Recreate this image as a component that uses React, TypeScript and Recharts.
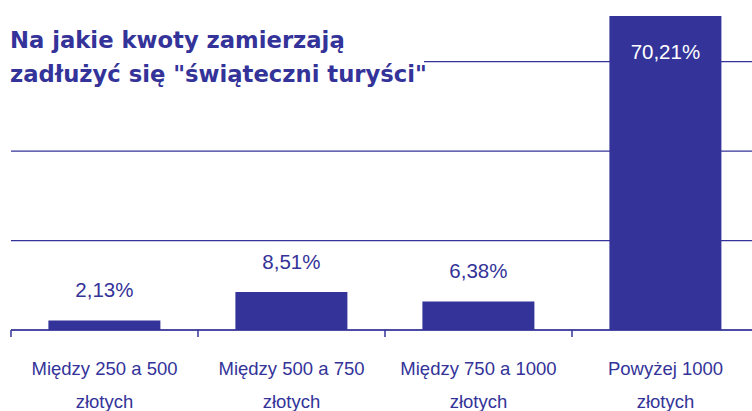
import React from 'react';
import { BarChart, Bar, XAxis, YAxis, CartesianGrid, LabelList } from 'recharts';

const categoriesLine1 = ['Między 250 a 500', 'Między 500 a 750', 'Między 750 a 1000', 'Powyżej 1000'];
const categoriesLine2 = ['złotych', 'złotych', 'złotych', 'złotych'];
const values = [2.13, 8.51, 6.38, 70.21];
const valueLabels = ['2,13%', '8,51%', '6,38%', '70,21%'];
const yTicks = [0, 20, 40, 60];
const titleLines = ['Na jakie kwoty zamierzają', 'zadłużyć się "świąteczni turyści"'];

const data = categoriesLine1.map((c, i) => ({
  name: c,
  line2: categoriesLine2[i],
  value: values[i],
  label: valueLabels[i],
}));

const BLUE = '#333399';
const FONT = '"Liberation Sans", Arial, sans-serif';

const CategoryTick = (props: any) => {
  const { x, y, payload, index } = props;
  const half = payload && typeof payload.offset === 'number' && payload.offset > 0 ? payload.offset : 93.5;
  const i = typeof index === 'number' ? index : payload.index;
  return (
    <g>
      <line x1={x - half} y1={y} x2={x - half} y2={y + 7} stroke={BLUE} strokeWidth={1.5} />
      <text x={x} y={y + 45} textAnchor="middle" fill={BLUE} fontSize={18.5} fontFamily={FONT}>
        {payload.value}
      </text>
      <text x={x} y={y + 78} textAnchor="middle" fill={BLUE} fontSize={18.5} fontFamily={FONT}>
        {categoriesLine2[i]}
      </text>
    </g>
  );
};

const ValueLabel = (props: any) => {
  const { x, y, width, index } = props;
  const inside = values[index] > 50;
  return (
    <text
      x={x + width / 2}
      y={inside ? y + 43 : y - 23}
      textAnchor="middle"
      fill={inside ? '#ffffff' : BLUE}
      fontSize={20.5}
      fontFamily={FONT}
    >
      {valueLabels[index]}
    </text>
  );
};

export default function App() {
  return (
    <div
      style={{
        position: 'fixed',
        left: 0,
        top: 0,
        width: 752,
        height: 411,
        overflow: 'hidden',
        background: '#ffffff',
      }}
    >
      <BarChart
        width={760}
        height={411}
        data={data}
        margin={{ top: 0, right: 1, bottom: 0, left: 11 }}
        barCategoryGap="20%"
      >
        <CartesianGrid horizontal vertical={false} syncWithTicks stroke={BLUE} strokeWidth={1.2} />
        <YAxis hide domain={[0, 73.8]} ticks={yTicks} type="number" allowDataOverflow />
        <XAxis
          dataKey="name"
          height={81}
          axisLine={{ stroke: BLUE, strokeWidth: 1.5 }}
          tickLine={false}
          tickSize={0}
          tickMargin={0}
          interval={0}
          tick={<CategoryTick />}
        />
        <Bar dataKey="value" fill={BLUE} isAnimationActive={false}>
          <LabelList dataKey="value" content={<ValueLabel />} />
        </Bar>
      </BarChart>
      <svg
        width={430}
        height={95}
        style={{ position: 'absolute', left: 0, top: 0 }}
      >
        <rect x={0} y={20} width={424} height={72} fill="#ffffff" />
        <text x={10} y={48} fill={BLUE} fontSize={22.7} fontWeight="bold" fontFamily='"DejaVu Sans", Verdana, sans-serif'>
          {titleLines[0]}
        </text>
        <text x={10} y={82} fill={BLUE} fontSize={22.7} fontWeight="bold" fontFamily='"DejaVu Sans", Verdana, sans-serif'>
          {titleLines[1]}
        </text>
      </svg>
    </div>
  );
}
